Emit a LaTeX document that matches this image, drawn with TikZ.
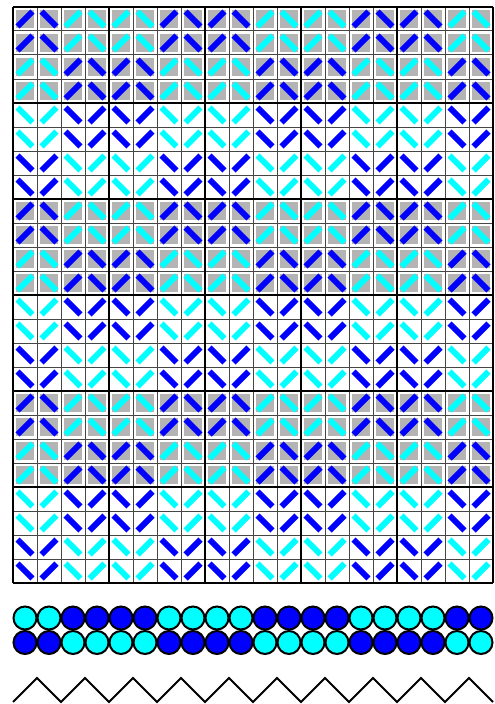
\documentclass[tikz,border=0pt]{standalone}
\definecolor{warpblue}{RGB}{0,0,255}
\definecolor{warpcyan}{RGB}{0,255,255}
\definecolor{cardgray}{RGB}{180,180,180}
\definecolor{cellline}{RGB}{70,70,70}
\tikzset{
  thread/.style={line width=6pt,line cap=butt},
  bead/.style={line width=2pt,draw=black},
}
\begin{document}
\begin{tikzpicture}[x=24pt,y=-24pt]
  % Card draft: 20 cards x 24 picks; grey blocks are turned forward, white blocks back.
  \useasboundingbox (-0.5417,-0.2917) rectangle (20.0833,29.0417);
  \foreach \r in {0,...,23}{
    \foreach \c in {0,...,19}{
      \pgfmathtruncatemacro\pr{mod(\r,8)}
      \pgfmathtruncatemacro\gr{\pr<4}
      \pgfmathtruncatemacro\fl{(\pr>1)*(\pr<6)}
      \pgfmathtruncatemacro\bs{mod(\c+2,8)<4}
      \pgfmathtruncatemacro\isblue{mod(\bs+\fl,2)}
      \pgfmathtruncatemacro\s{2*mod(\c+\gr,2)-1}
      \ifnum\isblue=1 \def\col{warpblue}\else\def\col{warpcyan}\fi
      \ifnum\gr=1 \fill[cardgray] (\c+0.125,\r+0.125) rectangle (\c+0.875,\r+0.875); \fi
      \draw[thread,draw=\col] ({\c+0.19},{\r+0.5+0.31*\s}) -- ({\c+0.81},{\r+0.5-0.31*\s});
    }
  }
  % cell lines, then block lines every 4 cells
  \foreach \c in {0,...,20}{\draw[cellline,line width=1pt] (\c,0)--(\c,24);}
  \foreach \r in {0,...,24}{\draw[cellline,line width=1pt] (0,\r)--(20,\r);}
  \foreach \c in {0,4,...,20}{\draw[black,line width=2pt] (\c,0)--(\c,24);}
  \foreach \r in {0,4,...,24}{\draw[black,line width=2pt] (0,\r)--(20,\r);}
  % threading of the cards: two holes shown per card
  \foreach \c in {0,...,19}{
    \pgfmathtruncatemacro\bs{mod(\c+2,8)<4}
    \ifnum\bs=1 \def\top{warpcyan}\def\bot{warpblue}\else\def\top{warpblue}\def\bot{warpcyan}\fi
    \draw[bead,fill=\top] (\c+0.5,25.458) circle[radius=11.5pt];
    \draw[bead,fill=\bot] (\c+0.5,26.479) circle[radius=11.5pt];
  }
  % zigzag
  \draw[line width=2pt] (0,28.958) \foreach \k in {0,...,9}{ -- (2*\k+1,27.958) -- (2*\k+2,28.958)};
\end{tikzpicture}
\end{document}
